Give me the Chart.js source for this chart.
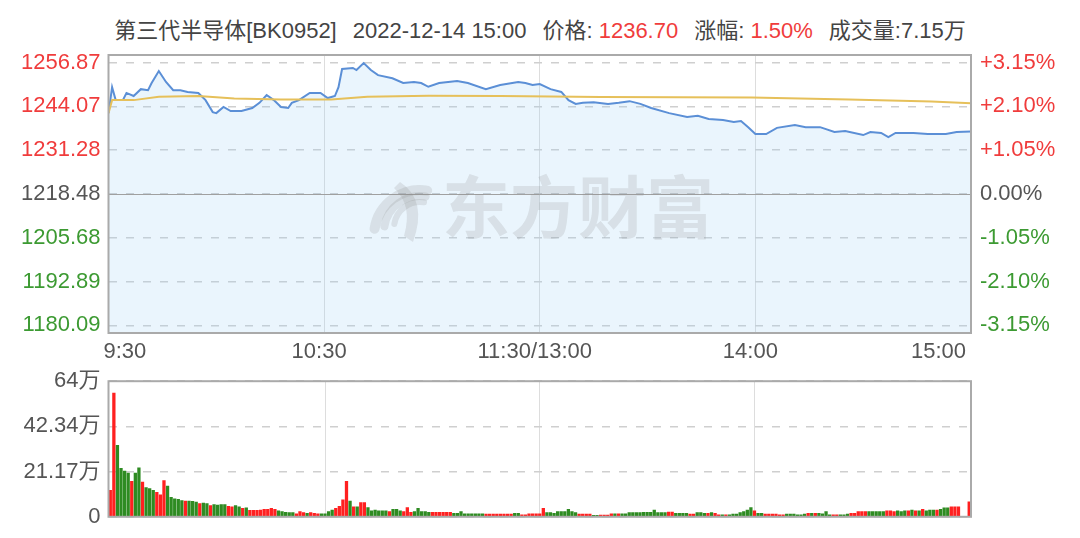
<!DOCTYPE html>
<html>
<head>
<meta charset="utf-8">
<script src="https://cdn.jsdelivr.net/npm/chart.js@4.4.0/dist/chart.umd.min.js"></script>
<style>
    body { margin: 0; background: #fff; width: 1080px; height: 538px; overflow: hidden; position: relative;
           font-family: "Liberation Sans", Arial, "Noto Sans CJK SC", sans-serif; }
    #head { position: absolute; top: 18px; left: 0; width: 1080px; text-align: center; font-size: 22px;
            line-height: 26px; color: #444; white-space: nowrap; }
    #head .up { color: #f03c3c; }
    #head .gap { margin-left: 16px; }
    canvas { position: absolute; left: 0; }
    #priceChart { top: 0; }
    #volChart { top: 360px; }
</style>
</head>
<body>
<div id="head">第三代半导体[BK0952]<span class="gap">2022-12-14 15:00</span><span class="gap">价格: </span><span class="up">1236.70</span><span class="gap">涨幅: </span><span class="up">1.50%</span><span class="gap">成交量:7.15万</span></div>
<canvas id="priceChart" width="1080" height="372"></canvas>
<canvas id="volChart" width="1080" height="178"></canvas>
<script>
// 1. Data (minute index 0 = 9:30, 240 = 15:00)
const BASE = 1218.48;

const priceMinutes = [0, 1, 2, 4, 5, 7, 9, 11, 12, 14, 16, 18, 20, 22, 25, 27, 29, 30, 32, 34,
    37, 40, 42, 44, 46, 48, 50, 51, 53, 56, 59, 61, 63, 64, 65, 68, 69, 71, 73, 75,
    79, 82, 85, 87, 89, 92, 97, 100, 105, 109, 114, 116, 118, 120, 123, 126, 128, 130, 132, 135,
    139, 142, 145, 148, 151, 156, 161, 164, 167, 171, 174, 176, 178, 180, 183, 186, 191, 194, 198, 202,
    205, 210, 212, 215, 217, 219, 224, 228, 233, 236, 240];
const priceValues = [1242.1, 1249.7, 1245.9, 1245.9, 1248.0, 1247.1, 1249.1, 1248.8, 1250.9, 1254.4,
    1251.2, 1248.8, 1248.8, 1248.3, 1248.0, 1245.9, 1242.4, 1242.1, 1243.9, 1242.7,
    1242.7, 1243.6, 1245.1, 1247.4, 1245.9, 1243.9, 1243.6, 1245.1, 1245.9, 1248.0,
    1248.0, 1246.5, 1247.1, 1249.7, 1255.0, 1255.3, 1254.7, 1256.7, 1254.7, 1253.2,
    1252.3, 1250.9, 1251.2, 1250.9, 1249.8, 1250.9, 1251.5, 1250.9, 1249.1, 1250.3,
    1251.2, 1250.9, 1250.3, 1250.6, 1249.1, 1248.3, 1245.9, 1244.8, 1245.1, 1245.3,
    1244.8, 1245.1, 1245.6, 1244.8, 1243.6, 1242.1, 1241.0, 1241.3, 1240.4, 1240.1,
    1239.5, 1239.8, 1238.0, 1236.0, 1236.0, 1237.8, 1238.6, 1238.0, 1238.0, 1236.6,
    1236.9, 1235.7, 1236.6, 1236.3, 1235.1, 1236.3, 1236.3, 1236.0, 1236.0, 1236.6, 1236.7];

const avgMinutes = [0, 1, 7, 14, 25, 35, 48, 62, 72, 89, 109, 137, 179, 206, 229, 240];
const avgValues = [1242.1, 1245.9, 1245.9, 1246.9, 1247.1, 1246.4, 1246.1, 1246.1, 1246.9, 1247.2,
    1247.1, 1246.8, 1246.7, 1246.1, 1245.5, 1245.0];

// volume in 万, one bar per minute
const volumes = [
    12.6, 58.1, 33.6, 22.8, 21.6, 20.6, 16.8, 20.6, 23.1, 16.4,
    13.8, 13.4, 12.6, 11.6, 10.4, 17.1, 14.6, 9.3, 8.6, 8.3,
    7.8, 7.5, 7.5, 7.4, 7.1, 6.3, 6.6, 6.3, 5.4, 5.9,
    5.6, 5.9, 5.9, 5.1, 4.8, 5.4, 4.8, 4.1, 4.4, 3.2,
    3.2, 3.2, 3.3, 3.6, 3.6, 4.1, 3.6, 3.0, 2.6, 2.3,
    2.1, 2.1, 1.5, 2.6, 2.1, 1.8, 2.1, 1.8, 1.5, 1.5,
    1.5, 2.6, 3.3, 4.1, 5.1, 8.1, 16.8, 7.5, 4.8, 4.8,
    6.8, 6.8, 4.5, 3.0, 3.3, 3.0, 3.0, 3.0, 2.6, 3.6,
    3.6, 3.0, 2.6, 4.5, 2.3, 2.6, 4.1, 2.6, 2.6, 2.3,
    2.3, 2.3, 2.3, 2.3, 2.3, 2.3, 1.8, 1.8, 2.6, 1.5,
    1.5, 1.5, 1.5, 1.5, 1.5, 1.4, 1.4, 1.4, 1.4, 1.4,
    1.4, 1.4, 1.4, 1.8, 1.8, 1.1, 1.1, 1.5, 1.5, 1.5,
    1.5, 4.1, 2.1, 2.1, 1.8, 2.6, 2.6, 2.6, 3.6, 2.6,
    2.1, 1.4, 1.4, 1.4, 1.4, 0.8, 0.8, 1.0, 1.0, 1.0,
    1.5, 1.5, 1.5, 1.5, 1.5, 2.1, 2.1, 2.1, 2.1, 2.3,
    2.3, 2.3, 3.3, 2.1, 2.1, 2.1, 2.4, 2.4, 1.8, 1.8,
    1.8, 1.8, 1.4, 1.4, 2.1, 2.1, 1.8, 1.8, 2.1, 1.8,
    1.1, 1.1, 1.1, 1.1, 1.4, 1.4, 2.1, 2.6, 3.3, 4.5,
    3.0, 1.8, 1.8, 1.4, 1.4, 1.4, 1.4, 1.1, 1.1, 1.4,
    1.4, 1.4, 1.1, 1.1, 1.4, 1.8, 1.8, 1.8, 1.8, 1.5,
    2.6, 1.1, 1.1, 1.1, 1.1, 1.1, 1.4, 1.8, 1.8, 2.6,
    2.6, 2.6, 2.6, 2.6, 2.6, 2.6, 2.6, 3.0, 3.0, 2.6,
    3.0, 2.6, 3.0, 3.0, 3.3, 3.0, 3.0, 3.6, 3.0, 3.3,
    3.3, 3.3, 3.6, 4.4, 4.4, 4.8, 4.8, 4.8, 0.3, 0.3, 7.15];
// r = up minute (red), g = down minute (green)
const volDirs =
    'rrggggrggr' + 'gggrrrgggg' + 'grgggrggrg' + 'gggrrggrgr' + 'rrrrrrrggg' +
    'ggrrrgrrrg' + 'gggrrrrgrg' + 'rrggggggrg' + 'ggrrrggggg' + 'rrrrrrgggg' +
    'gggggrrrrr' + 'rrrggrrrrr' + 'rrgggggggg' + 'grrrrggrrr' + 'rgrggggggg' +
    'ggggggrrgg' + 'ggrrgggrgr' + 'rgrggggggg' + 'rggrrrrrrg' + 'gggggrgrgg' +
    'ggrrgggrrr' + 'rrgggggrrr' + 'gggrgrgrgg' + 'grgggrrrggr';

const priceTicks = [1180.09, 1192.89, 1205.68, 1218.48, 1231.28, 1244.07, 1256.87];
const priceLabels = ['1180.09', '1192.89', '1205.68', '1218.48', '1231.28', '1244.07', '1256.87'];
const pctLabels = ['-3.15%', '-2.10%', '-1.05%', '0.00%', '+1.05%', '+2.10%', '+3.15%'];
const timeTicks = [0, 60, 120, 180, 240];
const timeLabels = ['9:30', '10:30', '11:30/13:00', '14:00', '15:00'];
const volTicks = [0, 21.17, 42.34, 63.51];
const volLabels = ['0', '21.17万', '42.34万', '64万'];

// 2. Look
const RED = '#f03c3c', GREEN = '#3c9a32', GRAY = '#555';
const FONT = { family: '"Liberation Sans", Arial, "Noto Sans CJK SC", sans-serif', size: 22 };
const AXIS_LEFT = 108.5, AXIS_RIGHT = 109;

function tickColor(ctx) {
    const v = ctx.tick ? ctx.tick.value : BASE;
    if (Math.abs(v - BASE) < 0.01) return GRAY;
    return v > BASE ? RED : GREEN;
}

// box + watermark drawn on top of the library output
const framePlugin = {
    id: 'frame',
    afterDatasetsDraw(chart, args, opts) {
        const { ctx, chartArea: a } = chart;
        ctx.save();
        if (opts.zero) {
            const y = Math.round(chart.scales.y.getPixelForValue(BASE)) + 0.5;
            ctx.strokeStyle = '#a0a0a0';
            ctx.lineWidth = 1;
            ctx.beginPath(); ctx.moveTo(a.left, y); ctx.lineTo(a.right, y); ctx.stroke();
        }
        if (opts.mark) {
            ctx.fillStyle = 'rgba(140,140,140,0.2)';
            ctx.strokeStyle = 'rgba(140,140,140,0.2)';
            ctx.font = 'bold 68px "Noto Sans CJK SC", sans-serif';
            ctx.textBaseline = 'middle';
            ctx.fillText('东方财富', 442, 207);
            // rough swirl logo
            ctx.lineCap = 'round';
            [[10, 34], [8, 24], [6, 14]].forEach(([w, r], k) => {
                ctx.lineWidth = w;
                ctx.beginPath();
                ctx.arc(420, 236 - k * 4, r + 12, Math.PI * 1.05, Math.PI * 1.55);
                ctx.stroke();
            });
            ctx.beginPath();
            ctx.moveTo(400, 182); ctx.quadraticCurveTo(428, 200, 413, 242);
            ctx.lineTo(404, 236); ctx.quadraticCurveTo(413, 205, 394, 188); ctx.closePath();
            ctx.fill();
        }
        ctx.strokeStyle = '#aaa';
        ctx.lineWidth = 2;
        ctx.strokeRect(a.left, a.top, a.right - a.left, a.bottom - a.top);
        ctx.restore();
    }
};

// 3. Price chart
new Chart(document.getElementById('priceChart'), {
    type: 'line',
    data: {
        datasets: [
            {
                label: 'avg',
                data: avgMinutes.map((m, i) => ({ x: m, y: avgValues[i] })),
                borderColor: '#e6c05a', borderWidth: 2, pointRadius: 0, fill: false, tension: 0
            },
            {
                label: 'price',
                data: priceMinutes.map((m, i) => ({ x: m, y: priceValues[i] })),
                borderColor: '#5b8fd6', borderWidth: 2, pointRadius: 0, tension: 0,
                fill: 'start', backgroundColor: 'rgba(160,210,245,0.22)'
            }
        ]
    },
    options: {
        responsive: false, animation: false,
        layout: { padding: { top: 55 } },
        plugins: { legend: { display: false }, tooltip: { enabled: false }, frame: { zero: true, mark: true } },
        scales: {
            x: {
                type: 'linear', min: 0, max: 240,
                afterBuildTicks: s => { s.ticks = timeTicks.map(v => ({ value: v })); },
                afterFit: s => { s.height = 39; },
                ticks: { autoSkip: false, maxRotation: 0, align: 'inner', labelOffset: -5, padding: 6,
                         color: GRAY, font: FONT, callback: (v, i) => timeLabels[i] },
                grid: { color: '#dddddd', lineWidth: 1, drawTicks: false },
                border: { display: false }
            },
            y: {
                position: 'left', min: BASE - 40.6, max: BASE + 40.6,
                afterBuildTicks: s => { s.ticks = priceTicks.map(v => ({ value: v })); },
                afterFit: s => { s.width = AXIS_LEFT; },
                ticks: { padding: 8, color: tickColor, font: FONT, callback: (v, i) => priceLabels[i] },
                grid: { color: '#cfcfcf', lineWidth: 1.5, drawTicks: false },
                border: { display: false, dash: [8, 9] }
            },
            y2: {
                position: 'right', min: BASE - 40.6, max: BASE + 40.6,
                afterBuildTicks: s => { s.ticks = priceTicks.map(v => ({ value: v })); },
                afterFit: s => { s.width = AXIS_RIGHT; },
                ticks: { padding: 9, color: tickColor, font: FONT, callback: (v, i) => pctLabels[i] },
                grid: { display: false, drawTicks: false },
                border: { display: false }
            }
        }
    },
    plugins: [framePlugin]
});

// 4. Volume chart
new Chart(document.getElementById('volChart'), {
    type: 'bar',
    data: {
        datasets: [{
            data: volumes.map((v, i) => ({ x: i, y: v })),
            backgroundColor: volumes.map((v, i) => volDirs[i] === 'r' ? '#ff2020' : '#2e8b22'),
            borderWidth: 0, barPercentage: 1, categoryPercentage: 0.92
        }]
    },
    options: {
        responsive: false, animation: false,
        layout: { padding: { top: 18.7, bottom: 17.3, right: AXIS_RIGHT } },
        plugins: { legend: { display: false }, tooltip: { enabled: false }, frame: {} },
        scales: {
            x: {
                type: 'linear', min: -0.5, max: 240.5, offset: false,
                afterBuildTicks: s => { s.ticks = [60, 120, 180].map(v => ({ value: v })); },
                afterFit: s => { s.height = 0; },
                ticks: { display: false },
                grid: { color: '#dddddd', lineWidth: 1, drawTicks: false, offset: false },
                border: { display: false }
            },
            y: {
                min: 0, max: 63.51,
                afterBuildTicks: s => { s.ticks = volTicks.map(v => ({ value: v })); },
                afterFit: s => { s.width = AXIS_LEFT; },
                ticks: { padding: 8, color: GRAY, font: FONT, callback: (v, i) => volLabels[i] },
                grid: { color: '#cfcfcf', lineWidth: 1.5, drawTicks: false },
                border: { display: false, dash: [8, 9] }
            }
        }
    },
    plugins: [framePlugin]
});
</script>
</body>
</html>
